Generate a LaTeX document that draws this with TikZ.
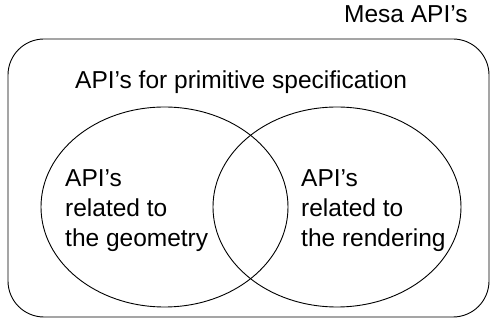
\documentclass[tikz,border=0pt]{standalone}
\usepackage{fontspec}
\setmainfont{Liberation Sans}
\begin{document}
\begin{tikzpicture}[x=1pt,y=-1pt,
  outline/.style={draw=black,line width=0.9pt},
  lbl/.style={inner sep=0pt,anchor=base west,font=\fontsize{24.5}{30}\selectfont,align=left}]
\useasboundingbox (0,0) rectangle (491,320);
% outer set of all APIs
\node[outline,rounded corners=36pt,minimum width=481pt,minimum height=278pt,inner sep=0pt] (mesa) at (248.5,178) {};
\node[lbl] (mesaLbl) at (344,23) {Mesa API’s};
\node[lbl] (prim) at (75,89) {API’s for primitive specification};
% the two overlapping subsets
\draw[outline] (164.5,207) ellipse [x radius=123.5, y radius=100];
\draw[outline] (337,207) ellipse [x radius=124, y radius=100];
% multi-line labels are anchored at the baseline of their last line
\node[lbl] (geo) at (65,247) {API’s\\related to\\the geometry};
\node[lbl] (rend) at (301,247) {API’s\\related to\\the rendering};
\end{tikzpicture}
\end{document}
